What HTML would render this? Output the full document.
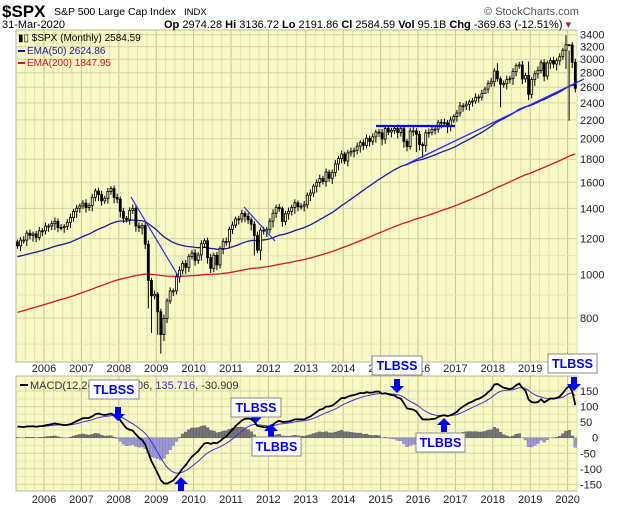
<!DOCTYPE html>
<html><head><meta charset="utf-8"><style>
body{margin:0;background:#fff;width:620px;height:507px;overflow:hidden;font-family:"Liberation Sans",sans-serif}
svg{display:block}
</style></head><body>
<svg id="s" width="620" height="507" xmlns="http://www.w3.org/2000/svg" font-family="Liberation Sans, sans-serif"></svg>
<script>
const C=[1157,1191,1191,1234,1220,1229,1207,1249,1248,
1280,1280,1295,1311,1270,1270,1277,1304,1336,1378,1401,1418,
1438,1407,1421,1482,1531,1503,1455,1474,1527,1549,1481,1468,
1379,1331,1323,1386,1400,1280,1267,1283,1166,969,896,903,
826,735,798,873,919,919,987,1021,1057,1036,1096,1115,
1074,1104,1169,1187,1089,1031,1102,1049,1141,1183,1181,1258,
1286,1327,1326,1364,1345,1321,1292,1219,1131,1253,1247,1258,
1312,1366,1408,1398,1310,1362,1379,1407,1441,1412,1416,1426,
1498,1515,1569,1598,1631,1606,1686,1633,1682,1757,1806,1848,
1783,1859,1872,1884,1924,1960,1931,2003,1972,2018,2068,2059,
1995,2105,2068,2086,2107,2063,2104,1972,1920,2079,2080,2044,
1940,1932,2060,2065,2097,2099,2174,2171,2168,2126,2199,2239,
2279,2364,2363,2384,2412,2423,2470,2472,2519,2575,2648,2674,
2824,2714,2641,2648,2705,2718,2816,2902,2914,2712,2760,2507,
2704,2784,2834,2946,2752,2942,2980,2926,2977,3038,3141,3231,
3226,2954,2585];
const lows={42:840,43:741,46:667,45:735,61:1056,63:1011,76:1101,78:1074,128:1867,130:1810,155:2346,176:2855,177:2191,152:2603,150:2532};
const highs={176:3393,177:3136,154:2940,164:2964};
const X0=44,MW=37.4/12;
const xm=i=>X0+MW*(i-9)+1.5;
const yp=p=>318-195.8*Math.log(p/800);
const L=16,R=577,T=30,B=362;
const MT=376,MB=491,Z=437.7,MS=0.311;
let s='';
s+=`<rect x="${L}" y="${T}" width="${R-L}" height="${B-T}" fill="#f9f9c6" stroke="#b8b890"/>`;
s+=`<rect x="${L}" y="${MT}" width="${R-L}" height="${MB-MT}" fill="#f9f9c6" stroke="#b8b890"/>`;
for(let m=-9;m<180;m+=3){const x=X0+MW*m;if(x<=L||x>=R)continue;
 const major=(m%12===0);
 const c=major?'#c2c290':'#e2e2b0';
 s+=`<line x1="${x}" y1="${T}" x2="${x}" y2="${B}" stroke="${c}"/><line x1="${x}" y1="${MT}" x2="${x}" y2="${MB}" stroke="${c}"/>`;}
const lv=[3400,3200,3000,2800,2600,2400,2200,2000,1800,1600,1400,1200,1000,800];
for(const p of lv){const y=yp(p);s+=`<line x1="${L}" y1="${y}" x2="${R}" y2="${y}" stroke="#d6d6a4"/><text x="${R+3}" y="${y+4}" font-size="11" fill="#222">${p}</text>`;}
for(const p of [1100,900,700]){const y=yp(p);if(y<B)s+=`<line x1="${L}" y1="${y}" x2="${R}" y2="${y}" stroke="#e6e6b6"/>`;}
for(let v=-150;v<=150;v+=25){const y=Z-v*MS;s+=`<line x1="${L}" y1="${y}" x2="${R}" y2="${y}" stroke="${v%50===0?'#d6d6a4':'#e6e6b6'}"/>`;
 if(v%50===0)s+=`<text x="${R+3+(v<0?0:(v===0?12:0))}" y="${y+4}" font-size="11" fill="#222">${v===0?'0':v}</text>`;}
for(let yr=2006;yr<=2020;yr++){const x=X0+37.4*(yr-2006);
 s+=`<text x="${x}" y="372" font-size="11" text-anchor="middle" fill="#222">${yr}</text><text x="${x}" y="503" font-size="11" text-anchor="middle" fill="#222">${yr}</text>`;}
let e50=1092,e200=820,p50=[],p200=[];
for(let i=0;i<C.length;i++){e50+=(C[i]-e50)*2/51;e200+=(C[i]-e200)*2/201;p50.push(`${xm(i)},${yp(e50)}`);p200.push(`${xm(i)},${yp(e200)}`);}
s+=`<polyline points="${p200.join(' ')}" fill="none" stroke="#e0102a" stroke-width="1.3"/>`;
s+=`<polyline points="${p50.join(' ')}" fill="none" stroke="#1a1aa0" stroke-width="1.3"/>`;
for(let i=0;i<C.length;i++){const c=C[i],o=i?C[i-1]:1180;
 let hi=highs[i]||Math.max(o,c)*(1+0.012+0.01*((i*7)%5)/5);
 let lo=lows[i]||Math.min(o,c)*(1-0.015-0.02*((i*11)%7)/7);
 const x=xm(i);
 s+=`<line x1="${x}" y1="${yp(hi)}" x2="${x}" y2="${yp(lo)}" stroke="#000"/>`;
 const y1=yp(Math.max(o,c)),y2=yp(Math.min(o,c));
 s+=`<rect x="${x-1}" y="${y1}" width="2" height="${Math.max(1,y2-y1)}" fill="${c<o?'#000':'#f9f9c6'}" stroke="#000" stroke-width="0.8"/>`;}
s+=`<line x1="131" y1="197" x2="180" y2="279" stroke="#2a2aff" stroke-width="1.2"/>`;
s+=`<line x1="244" y1="207" x2="275" y2="241" stroke="#2a2aff" stroke-width="1.2"/>`;
s+=`<line x1="376" y1="126" x2="455" y2="126" stroke="#0000ff" stroke-width="2.2"/>`;
s+=`<line x1="405" y1="165" x2="584" y2="79" stroke="#2a2aff" stroke-width="1.3"/>`;
let a=1170,b=1130,sg=35,mp=[],sp=[],hb='';
for(let i=0;i<C.length;i++){a+=(C[i]-a)*2/13;b+=(C[i]-b)*2/27;const m=a-b;sg+=(m-sg)*2/10;const h=m-sg;
 const x=xm(i);mp.push(`${x},${Z-m*MS}`);sp.push(`${x},${Z-sg*MS}`);
 hb+=`<rect x="${x-1.5}" y="${h>0?Z-h*MS:Z}" width="3" height="${Math.abs(h*MS)}" fill="${h>0?'#777':'#9a9ad0'}" stroke="${h>0?'#555':'#7a7ab8'}" stroke-width="0.4"/>`;}
s+=hb;
s+=`<polyline points="${sp.join(' ')}" fill="none" stroke="#4a2ad8" stroke-width="1"/>`;
s+=`<polyline points="${mp.join(' ')}" fill="none" stroke="#000" stroke-width="1.8"/>`;
s+=`<line x1="20" y1="385" x2="28" y2="385" stroke="#000" stroke-width="2"/><text x="30" y="389" font-size="11" fill="#333">MACD(12,26,9) 104.806, <tspan fill="#3a2ad0">135.716</tspan>, -30.909</text>`;
function box(x,y,w,t){return `<rect x="${x}" y="${y}" width="${w}" height="19" fill="#fff" stroke="#888"/><text x="${x+w/2}" y="${y+14}" font-size="12.5" font-weight="bold" fill="#0000ff" text-anchor="middle">${t}</text>`;}
function down(x,y){return `<polygon points="${x-3},${y-14} ${x+3},${y-14} ${x+3},${y-7} ${x+7},${y-7} ${x},${y} ${x-7},${y-7} ${x-3},${y-7}" fill="#0000ff"/>`;}
function up(x,y){return `<polygon points="${x-3},${y+14} ${x+3},${y+14} ${x+3},${y+7} ${x+7},${y+7} ${x},${y} ${x-7},${y+7} ${x-3},${y+7}" fill="#0000ff"/>`;}
s+=down(118,421)+box(89,380,50,'TLBSS');
s+=down(256,423)+box(231,398,50,'TLBSS');
s+=up(271,424)+box(252,437,49,'TLBBS');
s+=down(397,393)+box(372,356,50,'TLBSS');
s+=up(444,418)+box(416,433,49,'TLBBS');
s+=down(574,391)+box(548,354,49,'TLBSS');
s+=up(181,477);
s+=`<text x="2" y="17" font-size="17" font-weight="bold" fill="#000">$SPX</text><text x="54" y="15" font-size="10.5" fill="#000">S&amp;P 500 Large Cap Index</text><text x="184" y="15" font-size="9.5" fill="#000">INDX</text>`;
s+=`<text x="484" y="15" font-size="11" fill="#555">© StockCharts.com</text>`;
s+=`<text x="2" y="28" font-size="11" fill="#000">31-Mar-2020</text>`;
s+=`<text x="164" y="28" font-size="11" fill="#000"><tspan font-weight="bold">Op</tspan> 2974.28 <tspan font-weight="bold">Hi</tspan> 3136.72 <tspan font-weight="bold">Lo</tspan> 2191.86 <tspan font-weight="bold">Cl</tspan> 2584.59 <tspan font-weight="bold">Vol</tspan> 95.1B <tspan font-weight="bold">Chg</tspan> -369.63 (-12.51%) <tspan fill="#a02060">▾</tspan></text>`;
s+=`<text x="18" y="41" font-size="10" fill="#000">▮▯ $SPX (Monthly) 2584.59</text>`;
s+=`<line x1="18" y1="51" x2="25" y2="51" stroke="#1a1aa0" stroke-width="2"/><text x="27" y="54" font-size="10" fill="#1a1aa0">EMA(50) 2624.86</text>`;
s+=`<line x1="18" y1="63" x2="25" y2="63" stroke="#e0102a" stroke-width="2"/><text x="27" y="66" font-size="10" fill="#e0102a">EMA(200) 1847.95</text>`;
document.getElementById('s').innerHTML=s;
</script>
</body></html>
